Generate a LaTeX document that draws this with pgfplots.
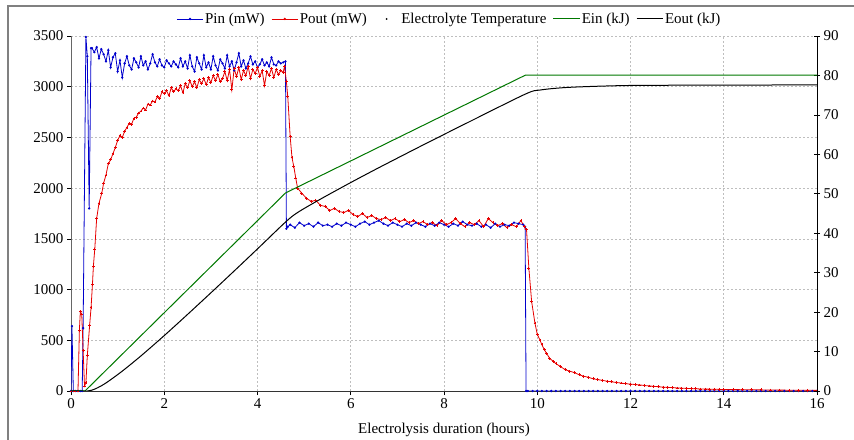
\documentclass[border=0pt]{standalone}
\usepackage{pgfplots}
\pgfplotsset{compat=1.18}
\usepackage{fontspec}
\setmainfont{Liberation Serif}
\definecolor{pinblue}{RGB}{0,0,204}
\definecolor{poutred}{RGB}{230,0,0}
\definecolor{eingreen}{RGB}{0,120,0}
\definecolor{gridgray}{RGB}{190,190,190}
\newcommand{\cf}{\fontsize{15bp}{17bp}\selectfont}
\pgfplotsset{
 longline legend/.style={legend image code/.code={\draw[mark repeat=2,mark phase=2,##1] plot coordinates {(0cm,0cm) (0.465cm,0cm) (0.93cm,0cm)};}},
 dot legend/.style={legend image code/.code={\path[draw=none,fill=none] (0cm,0cm) -- (0.93cm,0cm); \fill[black,draw=none] (0.465cm,0cm) circle (1bp);}},
}

\begin{document}
\begin{tikzpicture}
\useasboundingbox (0,0) rectangle (854bp,440bp);
\draw[black!50, line width=2bp] (8bp,-5bp) -- (8bp,434bp) -- (870bp,434bp);
\begin{axis}[
 at={(71bp,49bp)}, anchor=south west,
 scale only axis, width=746bp, height=355bp,
 xmin=0, xmax=16, ymin=0, ymax=3500,
 xtick={0,2,...,16}, ytick={0,500,...,3500},
 axis x line*=bottom, axis y line*=left,
 tick align=outside, major tick length=4bp,
 grid=major,
 major grid style={gridgray, dash pattern=on 2bp off 2bp, line width=0.6bp},
 tick style={black, line width=0.6bp},
 x axis line style={black!80, line width=0.8bp},
 y axis line style={black!60, line width=0.8bp},
 tick label style={font=\cf},
 /pgf/number format/1000 sep={},
 /pgf/number format/assume math mode=true,
 xlabel={Electrolysis duration (hours)},
 xlabel style={font=\cf, at={(axis description cs:0.5,0)}, anchor=north, inner sep=0pt, yshift=-32bp},
]
% Pin (mW)
\addplot[pinblue, line width=0.8bp, mark=*, mark size=0.7bp] coordinates {
(0,0) (0.02,640) (0.05,0) (0.10,0) (0.15,0) (0.20,0) (0.24,0) (0.26,620) (0.32,3490) (0.35,3300) (0.39,1800) (0.43,3380)
(0.45,3380) (0.50,3340) (0.55,3390) (0.60,3280) (0.65,3370) (0.70,3320) (0.75,3250) (0.80,3360) (0.85,3190) (0.90,3290)
(0.95,3330) (1.00,3150) (1.05,3260) (1.10,3090) (1.15,3230) (1.20,3300) (1.25,3210) (1.30,3170) (1.35,3280) (1.40,3240)
(1.45,3190) (1.50,3300) (1.55,3210) (1.60,3250) (1.65,3170) (1.70,3230) (1.75,3320) (1.80,3240) (1.85,3200) (1.90,3270)
(1.95,3210) (2.00,3190) (2.05,3260) (2.10,3230) (2.15,3200) (2.20,3250) (2.25,3220) (2.30,3190) (2.35,3280) (2.40,3200)
(2.45,3250) (2.50,3180) (2.55,3310) (2.60,3200) (2.65,3150) (2.70,3290) (2.75,3230) (2.80,3170) (2.85,3310) (2.90,3190)
(2.95,3240) (3.00,3170) (3.05,3300) (3.10,3210) (3.15,3160) (3.20,3270) (3.25,3230) (3.30,3180) (3.35,3310) (3.40,3200)
(3.45,3250) (3.50,3160) (3.55,3240) (3.60,3330) (3.65,3200) (3.70,3260) (3.75,3180) (3.80,3230) (3.85,3300) (3.90,3220)
(3.95,3250) (4.00,3190) (4.05,3220) (4.10,3270) (4.15,3210) (4.20,3240) (4.25,3200) (4.30,3290) (4.35,3220) (4.40,3210)
(4.45,3250) (4.50,3230) (4.55,3240) (4.60,3250) (4.62,1600) (4.65,1620)
(4.70,1640) (4.80,1610) (4.90,1660) (5.00,1630) (5.10,1650) (5.20,1620) (5.30,1660) (5.40,1630) (5.50,1640) (5.60,1620)
(5.70,1650) (5.80,1630) (5.90,1660) (6.00,1640) (6.10,1620) (6.20,1650) (6.30,1670) (6.40,1640) (6.50,1660) (6.60,1680)
(6.70,1650) (6.80,1630) (6.90,1660) (7.00,1640) (7.10,1620) (7.20,1650) (7.30,1630) (7.40,1660) (7.50,1640) (7.60,1620)
(7.70,1650) (7.80,1630) (7.90,1660) (8.00,1640) (8.10,1620) (8.20,1650) (8.30,1630) (8.40,1670) (8.50,1640) (8.60,1630)
(8.70,1650) (8.80,1620) (8.90,1640) (9.00,1610) (9.10,1650) (9.20,1620) (9.30,1640) (9.40,1630) (9.50,1660) (9.60,1650)
(9.70,1640) (9.74,1620) (9.76,0)
(9.8,0) (9.9,0) (10.0,0) (10.1,0) (10.2,0) (10.3,0) (10.4,0) (10.5,0) (10.6,0) (10.7,0) (10.8,0) (10.9,0)
(11.0,0) (11.1,0) (11.2,0) (11.3,0) (11.4,0) (11.5,0) (11.6,0) (11.7,0) (11.8,0) (11.9,0)
(12.0,0) (12.1,0) (12.2,0) (12.3,0) (12.4,0) (12.5,0) (12.6,0) (12.7,0) (12.8,0) (12.9,0)
(13.0,0) (13.1,0) (13.2,0) (13.3,0) (13.4,0) (13.5,0) (13.6,0) (13.7,0) (13.8,0) (13.9,0)
(14.0,0) (14.1,0) (14.2,0) (14.3,0) (14.4,0) (14.5,0) (14.6,0) (14.7,0) (14.8,0) (14.9,0)
(15.0,0) (15.1,0) (15.2,0) (15.3,0) (15.4,0) (15.5,0) (15.6,0) (15.7,0) (15.8,0) (15.9,0) (16.0,0)
};
% Pout (mW)
\addplot[poutred, line width=0.8bp, mark=+, mark size=1.4bp] coordinates {
(0,0) (0.08,0) (0.15,0) (0.18,600) (0.20,780) (0.23,760) (0.26,400) (0.29,50) (0.32,80) (0.35,350) (0.40,650) (0.43,820)
(0.46,1050) (0.48,1230) (0.51,1400) (0.55,1700) (0.60,1850) (0.66,1950) (0.70,2050) (0.75,2130) (0.80,2240) (0.85,2280)
(0.90,2340) (0.95,2400) (1.00,2470) (1.05,2520) (1.10,2500) (1.15,2560) (1.20,2600) (1.25,2640) (1.30,2630) (1.35,2690)
(1.40,2700) (1.45,2740) (1.50,2760) (1.55,2790) (1.60,2770) (1.65,2830) (1.70,2820) (1.75,2860) (1.80,2850) (1.85,2900)
(1.90,2880) (1.95,2950) (2.00,2930) (2.05,2960) (2.10,2910) (2.15,2990) (2.20,2950) (2.25,2980) (2.30,2960) (2.35,3010)
(2.40,2940) (2.45,3030) (2.50,2990) (2.55,3060) (2.60,3000) (2.65,3050) (2.70,2990) (2.75,3070) (2.80,3030) (2.85,3080)
(2.90,3020) (2.95,3090) (3.00,3040) (3.05,3110) (3.10,3060) (3.15,3120) (3.20,3050) (3.25,3080) (3.30,3150) (3.35,3060)
(3.40,3170) (3.45,2970) (3.50,3180) (3.55,3100) (3.60,3190) (3.65,3070) (3.70,3160) (3.75,3110) (3.80,3200) (3.85,3080)
(3.90,3170) (3.95,3130) (4.00,3190) (4.05,3100) (4.10,3160) (4.15,3010) (4.20,3150) (4.25,3110) (4.30,3180) (4.35,3090)
(4.40,3170) (4.45,3120) (4.50,3160) (4.55,3140) (4.58,3200) (4.62,3050) (4.65,2900) (4.70,2510) (4.74,2300) (4.78,2210)
(4.82,2100) (4.86,2000) (4.95,1950) (5.05,1900) (5.15,1870) (5.25,1880) (5.35,1830) (5.45,1820) (5.55,1780) (5.65,1800)
(5.75,1770) (5.85,1760) (5.95,1780) (6.05,1740) (6.15,1720) (6.25,1750) (6.35,1710) (6.45,1730) (6.55,1700) (6.65,1690)
(6.75,1710) (6.85,1680) (6.95,1700) (7.05,1670) (7.15,1690) (7.25,1660) (7.35,1680) (7.45,1650) (7.55,1670) (7.65,1640)
(7.75,1660) (7.85,1630) (7.95,1680) (8.05,1640) (8.15,1660) (8.25,1700) (8.35,1650) (8.45,1620) (8.55,1660) (8.65,1640)
(8.75,1680) (8.85,1620) (8.95,1700) (9.05,1660) (9.15,1630) (9.25,1650) (9.35,1610) (9.45,1640) (9.55,1620) (9.65,1680)
(9.72,1620) (9.77,1590) (9.82,1210) (9.88,880) (9.95,670) (10.00,560) (10.06,500) (10.10,455) (10.15,410) (10.20,370)
(10.27,320) (10.35,290) (10.40,270) (10.50,240) (10.60,210) (10.70,195) (10.80,180) (10.90,160) (11.00,145) (11.10,135)
(11.20,120) (11.30,112) (11.40,105) (11.50,96) (11.60,90) (11.70,84) (11.80,78) (11.90,72) (12.00,68) (12.10,64)
(12.20,60) (12.30,54) (12.40,50) (12.50,46) (12.60,42) (12.70,38) (12.80,36) (12.90,33) (13.00,30) (13.10,28)
(13.20,26) (13.30,24) (13.40,22) (13.50,20) (13.60,19) (13.70,18) (13.80,17) (13.90,16) (14.00,15) (14.20,14)
(14.40,13) (14.60,12) (14.80,11) (15.00,10) (15.20,9) (15.40,8) (15.60,8) (15.80,7) (16.00,6)
};
\end{axis}
\begin{axis}[
 at={(71bp,49bp)}, anchor=south west,
 scale only axis, width=746bp, height=355bp,
 xmin=0, xmax=16, ymin=0, ymax=90, ytick={0,10,...,90},
 axis y line*=right, axis x line=none,
 tick align=center, major tick length=6bp,
 tick style={black, line width=0.6bp},
 y axis line style={black, line width=0.8bp},
 tick label style={font=\cf},
 /pgf/number format/assume math mode=true,
 legend style={at={(0.507,1.048)}, anchor=center, draw=none, fill=none, font=\cf,
   legend columns=-1, inner xsep=0pt, inner ysep=0pt, nodes={inner sep=1.5bp},
   /tikz/every even column/.append style={column sep=5bp}},
]
\addlegendimage{pinblue, line width=0.8bp, mark=*, mark size=0.7bp, longline legend}
\addlegendentry{Pin (mW)}
\addlegendimage{poutred, line width=0.8bp, mark=*, mark size=0.7bp, longline legend}
\addlegendentry{Pout (mW)}
\addlegendimage{black, only marks, mark=*, mark size=1bp, dot legend}
\addlegendentry{Electrolyte Temperature}
\addplot[eingreen, line width=1bp, longline legend] coordinates {
(0,0) (0.30,0) (4.60,50.2) (9.75,80.1) (16,80.1)
};
\addlegendentry{Ein (kJ)}
\addplot[black, line width=1bp, smooth, longline legend] coordinates {
(0,0) (0.35,0) (0.5,0.44) (0.66,1.38) (0.8,2.44) (1.05,4.59) (1.27,6.65) (1.55,9.4) (2,14.05) (2.5,19.42) (3,24.89)
(3.5,30.43) (4,36.03) (4.6,42.82) (4.86,45.25) (5.35,48.64) (6,52.85) (6.6,56.6) (7.5,62.06) (8.5,68.0) (9.75,75.3)
(10.06,76.3) (10.63,76.95) (11.56,77.35) (12.5,77.5) (16,77.6)
};
\addlegendentry{Eout (kJ)}
\node[rotate=90, anchor=north, font=\cf, inner sep=0pt] at (axis description cs:1.0469,0.5) {Energy (kJ)};
\end{axis}
\end{tikzpicture}
\end{document}
